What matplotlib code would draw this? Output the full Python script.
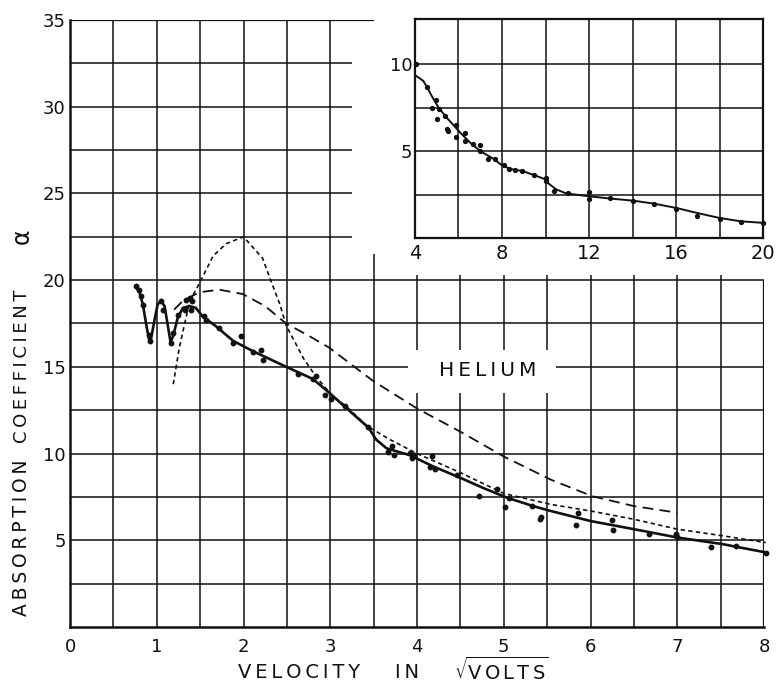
import matplotlib
matplotlib.use('Agg')
import matplotlib.pyplot as plt

# Helium absorption coefficient vs electron velocity (main panel)
# solid curve drawn through the measured points
solid_x = [0.76, 0.80, 0.84, 0.88, 0.91, 0.93, 0.97, 1.01, 1.05, 1.09, 1.13, 1.16,
           1.19, 1.24, 1.30, 1.38, 1.45, 1.53, 1.68, 1.88, 2.11, 2.45, 2.80, 2.99,
           3.19, 3.44, 3.53, 3.65, 3.92, 4.19, 4.50, 4.77, 5.04, 5.34, 5.54, 6.00,
           6.50, 7.00, 7.52, 8.02]
solid_y = [19.6, 19.3, 18.6, 17.4, 16.6, 16.5, 17.6, 18.6, 18.8, 18.5, 17.3, 16.4,
           16.8, 17.8, 18.4, 18.5, 18.4, 17.9, 17.35, 16.5, 15.9, 15.1, 14.3, 13.5,
           12.6, 11.5, 10.8, 10.3, 9.9, 9.25, 8.6, 8.0, 7.45, 6.97, 6.69, 6.11,
           5.64, 5.16, 4.78, 4.3]

# measured points
pts_x = [0.76, 0.79, 0.82, 0.84, 0.91, 0.92, 1.05, 1.07, 1.16, 1.19, 1.24, 1.33,
         1.34, 1.38, 1.40, 1.41, 1.55, 1.57, 1.72, 1.88, 1.97, 2.11, 2.20, 2.22,
         2.63, 2.80, 2.84, 2.94, 3.01, 3.17, 3.44, 3.67, 3.71, 3.73, 3.92, 3.94,
         3.96, 4.17, 4.15, 4.21, 4.46, 4.72, 4.92, 5.01, 5.06, 5.33, 5.42, 5.43,
         5.83, 5.85, 6.25, 6.26, 6.67, 6.98, 7.00, 7.39, 7.68, 8.02]
pts_y = [19.64, 19.45, 19.07, 18.59, 16.84, 16.50, 18.82, 18.30, 16.40, 16.97, 18.00, 18.30,
         18.88, 18.97, 18.30, 18.78, 17.92, 17.73, 17.26, 16.40, 16.78, 15.86, 15.96, 15.39,
         14.59, 14.30, 14.50, 13.35, 13.16, 12.73, 11.54, 10.11, 10.44, 9.92, 10.06, 9.73,
         9.92, 9.87, 9.22, 9.10, 8.78, 7.54, 7.96, 6.90, 7.45, 6.97, 6.25, 6.35,
         5.87, 6.55, 6.15, 5.60, 5.39, 5.35, 5.16, 4.59, 4.65, 4.25]

# short-dashed theoretical curve (sharp peak near 2)
short_x = [1.19, 1.26, 1.38, 1.49, 1.65, 1.80, 2.00, 2.22, 2.32, 2.42, 2.49, 2.69,
           2.84, 3.03, 3.19, 3.42, 3.69, 4.00, 4.50, 5.00, 5.54, 6.00, 6.50, 7.00,
           7.52, 8.02]
short_y = [14.0, 16.1, 18.8, 19.8, 21.4, 22.1, 22.5, 21.26, 19.9, 18.6, 17.4, 15.5,
           14.4, 13.3, 12.7, 11.6, 10.8, 10.0, 8.9, 7.7, 7.07, 6.69, 6.21, 5.64,
           5.26, 4.87]

# long-dashed theoretical curve
long_x = [1.20, 1.30, 1.49, 1.72, 1.99, 2.25, 2.49, 2.75, 2.99, 3.20, 3.49, 4.00,
          4.50, 5.00, 5.54, 6.02, 6.50, 7.00]
long_y = [18.3, 18.8, 19.3, 19.45, 19.2, 18.5, 17.5, 16.8, 16.1, 15.3, 14.2, 12.6,
          11.26, 9.83, 8.5, 7.54, 6.97, 6.59]

# inset: higher velocities
inset_curve_x = [4.0, 4.38, 4.54, 4.77, 5.08, 5.46, 6.08, 6.54, 7.0, 7.6, 8.05, 8.5,
                 8.95, 9.6, 10.0, 10.1, 10.5, 10.96, 12.0, 12.97, 14.0, 14.97, 16.0,
                 16.97, 18.0, 18.97, 20.0]
inset_curve_y = [9.37, 9.04, 8.71, 8.17, 7.50, 6.92, 6.06, 5.48, 5.0, 4.56, 4.13, 3.94,
                 3.85, 3.56, 3.37, 3.17, 2.79, 2.56, 2.40, 2.27, 2.15, 1.98, 1.73,
                 1.44, 1.15, 0.96, 0.87]
inset_pts_x = [4.03, 4.54, 4.77, 4.97, 5.03, 5.12, 5.38, 5.46, 5.50, 5.90, 5.90, 6.28,
               6.31, 6.66, 7.0, 7.0, 7.34, 7.66, 8.08, 8.31, 8.62, 8.92, 9.46, 10.0,
               10.0, 10.38, 11.05, 12.0, 12.0, 12.97, 14.0, 14.97, 16.0, 16.97, 18.0,
               18.97, 20.0]
inset_pts_y = [10.0, 8.7, 7.5, 7.92, 6.87, 7.4, 7.0, 6.25, 6.15, 5.83, 6.48, 6.06,
               5.58, 5.38, 5.33, 5.0, 4.52, 4.52, 4.17, 3.94, 3.9, 3.85, 3.65, 3.46,
               3.27, 2.73, 2.6, 2.63, 2.27, 2.31, 2.15, 1.98, 1.69, 1.25, 1.12,
               0.9, 0.87]

main_xticks = [0, 1, 2, 3, 4, 5, 6, 7, 8]
main_yticks = [5, 10, 15, 20, 25, 30, 35]
inset_xticks = [4, 8, 12, 16, 20]
inset_yticks = [5, 10]

ink = '#111111'
plt.rcParams['font.family'] = ['DejaVu Sans']
plt.rcParams['mathtext.fontset'] = 'dejavusans'

fig = plt.figure(figsize=(7.77, 6.85), dpi=100)
ax = fig.add_axes([0.0901, 0.0847, 0.8932, 0.8861])
ax.set_xlim(0, 8)
ax.set_ylim(0, 35)

# hand drawn style grid: lines stop where the inset and the label sit
glw = 1.1
for yv in [2.5, 5, 7.5, 10, 12.5, 17.5, 20]:
    ax.hlines(yv, 0, 8, color=ink, lw=glw, zorder=1)
ax.hlines(15, 0, 3.9, color=ink, lw=glw, zorder=1)
ax.hlines(15, 5.6, 8, color=ink, lw=glw, zorder=1)
for yv in [22.5, 25, 27.5, 30, 32.5]:
    ax.hlines(yv, 0, 3.25, color=ink, lw=glw, zorder=1)
ax.hlines(35, 0, 3.5, color=ink, lw=1.6, zorder=1)
for xv in [0.5, 1, 1.5, 2, 2.5, 3]:
    ax.vlines(xv, 0, 35, color=ink, lw=glw, zorder=1)
ax.vlines(3.5, 0, 21.5, color=ink, lw=glw, zorder=1)
for xv in [4, 4.5, 5, 5.5]:
    ax.vlines(xv, 0, 13.5, color=ink, lw=glw, zorder=1)
    ax.vlines(xv, 16.0, 20.3, color=ink, lw=glw, zorder=1)
for xv in [6, 6.5, 7, 7.5]:
    ax.vlines(xv, 0, 20.3, color=ink, lw=glw, zorder=1)
ax.vlines(8, 0, 20, color=ink, lw=1.6, zorder=1)

for s in ['top', 'right']:
    ax.spines[s].set_visible(False)
for s in ['left', 'bottom']:
    ax.spines[s].set_linewidth(1.8)
    ax.spines[s].set_color(ink)

ax.set_xticks(main_xticks)
ax.set_yticks(main_yticks)
ax.tick_params(length=0, labelsize=13, colors=ink)
ax.tick_params(axis='x', pad=8)
ax.tick_params(axis='y', pad=3)

# curves
ax.plot(solid_x, solid_y, color=ink, lw=1.9, zorder=3, clip_on=False)
ax.plot(pts_x, pts_y, 'o', color=ink, ms=3.2, zorder=4, clip_on=False)
ax.plot(short_x, short_y, color=ink, lw=1.2, dashes=(2.6, 2.0), zorder=3, clip_on=False)
ax.plot(long_x, long_y, color=ink, lw=1.3, dashes=(6, 3.5), zorder=3)

ax.text(4.82, 14.8, 'H\u2009E\u2009L\u2009I\u2009U\u2009M', fontsize=14.5, color=ink,
        ha='center', va='center', zorder=5)

# axis titles, lettered word by word
fig.text(0.385, 0.018, 'V\u2009E\u2009L\u2009O\u2009C\u2009I\u2009T\u2009Y', fontsize=14,
         color=ink, ha='center', va='center')
fig.text(0.524, 0.018, 'I\u2009N', fontsize=14, color=ink, ha='center', va='center')
fig.text(0.645, 0.022, r'$\sqrt{\mathrm{V\,O\,L\,T\,S}}$', fontsize=14, color=ink,
         ha='center', va='center')
fig.text(0.028, 0.215, 'A\u2009B\u2009S\u2009O\u2009R\u2009P\u2009T\u2009I\u2009O\u2009N',
         fontsize=13.5, color=ink, rotation=90, ha='center', va='center')
fig.text(0.028, 0.466, 'C\u2009O\u2009E\u2009F\u2009F\u2009I\u2009C\u2009I\u2009E\u2009N\u2009T',
         fontsize=13, color=ink, rotation=90, ha='center', va='center')
fig.text(0.028, 0.655, '\u03b1', fontsize=17, color=ink, rotation=90,
         ha='center', va='center')

# inset panel
ins = fig.add_axes([0.5341, 0.6526, 0.4479, 0.3197])
ins.set_xlim(4, 20)
ins.set_ylim(0, 12.6)
for xv in [6, 8, 10, 12, 14, 16, 18]:
    ins.axvline(xv, color=ink, lw=glw, zorder=1)
for yv in [2.5, 5, 7.5, 10]:
    ins.axhline(yv, color=ink, lw=glw, zorder=1)
for s in ins.spines.values():
    s.set_linewidth(1.6)
    s.set_color(ink)
ins.set_xticks(inset_xticks)
ins.set_yticks(inset_yticks)
ins.tick_params(length=0, colors=ink)
ins.tick_params(axis='x', labelsize=14, pad=4)
ins.tick_params(axis='y', labelsize=13, pad=2)
ins.plot(inset_curve_x, inset_curve_y, color=ink, lw=1.4, zorder=3)
ins.plot(inset_pts_x, inset_pts_y, 'o', color=ink, ms=2.8, zorder=4, clip_on=False)

fig.savefig('out.png', dpi=100, facecolor='white')
